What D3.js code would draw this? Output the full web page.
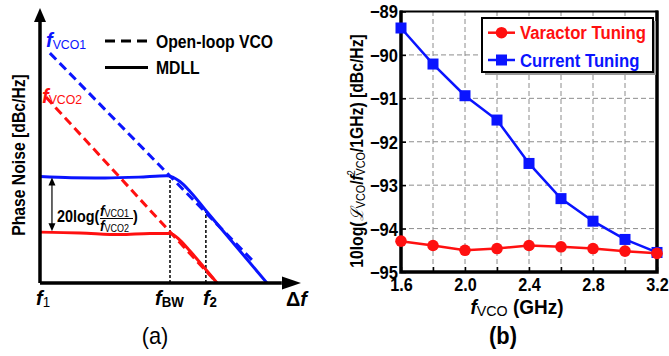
<!DOCTYPE html>
<html>
<head>
<meta charset="utf-8">
<script src="https://cdn.jsdelivr.net/npm/d3@7/dist/d3.min.js"></script>
<style>
  body { margin: 0; background: #fff; }
  svg { display: block; font-family: "Liberation Sans", Arial, sans-serif; }
</style>
</head>
<body>
<svg id="chart" width="669" height="356"></svg>
<script>
// ---- panel (a): schematic phase-noise sketch, unitless coordinates (0..10) ----
const blueOpenLoop = [[0.38, 8.36], [8.15, 0.84]];
const redOpenLoop = [[0.23, 6.76], [6.81, 0]];
const blueMdll = [[0, 3.87], [1.2, 3.83], [2.5, 3.82], [3.8, 3.85], [4.88, 3.9],
  [5.38, 3.69], [5.77, 3.33], [6.41, 2.6], [8.73, 0]];
const redMdll = [[0, 1.85], [1.54, 1.82], [3.08, 1.76], [4.23, 1.8], [5.0, 1.8],
  [5.38, 1.56], [5.77, 1.16], [6.81, 0]];
const fBw = 5.0;
const f2 = 6.38;

// ---- panel (b): measured data ----
const freqs = [1.6, 1.8, 2.0, 2.2, 2.4, 2.6, 2.8, 3.0, 3.2];
const varactorTuning = [-94.29, -94.39, -94.50, -94.46, -94.39, -94.42, -94.46, -94.52, -94.57];
const currentTuning = [-89.38, -90.21, -90.94, -91.50, -92.50, -93.31, -93.83, -94.25, -94.55];
const yTicks = [-95, -94, -93, -92, -91, -90, -89];
const xTickLabels = [1.6, 2.0, 2.4, 2.8, 3.2];

const BLUE = '#0a14ff';
const RED = '#ff1010';

const svg = d3.select('#chart');

// text helper: Arial-like bold, squeezed a little horizontally like the original
function label(g, x, y, opt) {
  let tf = `translate(${x},${y})`;
  if (opt.rotate) tf += ` rotate(${opt.rotate})`;
  tf += ` scale(${opt.sx || 0.9},1)`;
  const t = g.append('text')
    .attr('transform', tf)
    .attr('text-anchor', opt.anchor || 'start')
    .attr('fill', opt.fill || '#000')
    .style('font-size', (opt.size || 17) + 'px')
    .style('font-weight', opt.weight || 'bold');
  const parts = opt.parts || [{ t: opt.text }];
  parts.forEach((p) => {
    const s = t.append('tspan').text(p.t);
    if (p.size) s.style('font-size', p.size + 'px');
    if (p.weight) s.style('font-weight', p.weight);
    if (p.italic) s.style('font-style', 'italic');
    if (p.dx) s.attr('dx', p.dx);
    if (p.dy) s.attr('dy', p.dy);
  });
  return t;
}

// ================= panel (a) =================
const ga = svg.append('g');
const xA = d3.scaleLinear().domain([0, 10]).range([40, 300]);
const yA = d3.scaleLinear().domain([0, 10]).range([283, 8]);
const lineA = d3.line().x((d) => xA(d[0])).y((d) => yA(d[1]));
const smoothA = d3.line().x((d) => xA(d[0])).y((d) => yA(d[1])).curve(d3.curveMonotoneX);

// dotted verticals
ga.append('path').attr('d', lineA([[fBw, 0], [fBw, 3.88]]))
  .attr('stroke', '#000').attr('stroke-width', 1.5).attr('stroke-dasharray', '3,2');
ga.append('path').attr('d', lineA([[f2, 0], [f2, 2.6]]))
  .attr('stroke', '#000').attr('stroke-width', 1.5).attr('stroke-dasharray', '3,2');

// open-loop (dashed)
ga.append('path').attr('d', lineA(blueOpenLoop)).attr('fill', 'none')
  .attr('stroke', BLUE).attr('stroke-width', 3).attr('stroke-dasharray', '9,5');
ga.append('path').attr('d', lineA(redOpenLoop)).attr('fill', 'none')
  .attr('stroke', RED).attr('stroke-width', 3).attr('stroke-dasharray', '9,5');

// MDLL (solid)
ga.append('path').attr('d', smoothA(blueMdll)).attr('fill', 'none')
  .attr('stroke', BLUE).attr('stroke-width', 3);
ga.append('path').attr('d', smoothA(redMdll)).attr('fill', 'none')
  .attr('stroke', RED).attr('stroke-width', 3);

// axes with arrows
ga.append('path').attr('d', lineA([[0, 0], [0, 9.5]]))
  .attr('stroke', '#000').attr('stroke-width', 3.5);
ga.append('path').attr('d', lineA([[0, 0], [9.3, 0]]))
  .attr('stroke', '#000').attr('stroke-width', 3.5);
ga.append('path').attr('fill', '#000')
  .attr('d', `M${xA(0)},${yA(10)} L${xA(0) - 6},${yA(10) + 14} L${xA(0) + 6},${yA(10) + 14}Z`);
ga.append('path').attr('fill', '#000')
  .attr('d', `M${xA(10) + 1},${yA(0)} L${xA(10) - 18},${yA(0) - 6.5} L${xA(10) - 18},${yA(0) + 6.5}Z`);

// double arrow between the two plateaus
const arrX = xA(0.46);
const arrTop = yA(3.87) + 1;
const arrBot = yA(1.85) - 1;
ga.append('line').attr('x1', arrX).attr('x2', arrX).attr('y1', arrTop + 6).attr('y2', arrBot - 6)
  .attr('stroke', '#000').attr('stroke-width', 1.2);
ga.append('path').attr('fill', '#000')
  .attr('d', `M${arrX},${arrTop} L${arrX - 3.5},${arrTop + 8} L${arrX + 3.5},${arrTop + 8}Z`);
ga.append('path').attr('fill', '#000')
  .attr('d', `M${arrX},${arrBot} L${arrX - 3.5},${arrBot - 8} L${arrX + 3.5},${arrBot - 8}Z`);

// 20log(fVCO1/fVCO2)
label(ga, 57, 222, { size: 16, text: '20log(' });
label(ga, 100, 215.5, { size: 15, sx: 0.9, parts: [
  { t: 'f', italic: true },
  { t: 'VCO1', size: 10, weight: 'normal', dy: 1 }] });
label(ga, 100, 231, { size: 15, sx: 0.9, parts: [
  { t: 'f', italic: true },
  { t: 'VCO2', size: 10, weight: 'normal', dy: 1 }] });
ga.append('line').attr('x1', 100).attr('x2', 133).attr('y1', 218.5).attr('y2', 218.5)
  .attr('stroke', '#000').attr('stroke-width', 1);
label(ga, 133, 222, { size: 16, text: ')' });

// curve names
label(ga, 46, 47, { size: 21, fill: BLUE, sx: 0.95, parts: [
  { t: 'f', italic: true },
  { t: 'VCO1', size: 13, weight: 'normal', dy: 2 }] });
label(ga, 42, 103, { size: 21, fill: RED, sx: 0.95, parts: [
  { t: 'f', italic: true },
  { t: 'VCO2', size: 13, weight: 'normal', dy: 1 }] });

// legend (a)
ga.append('line').attr('x1', 105).attr('x2', 148).attr('y1', 41).attr('y2', 41)
  .attr('stroke', '#000').attr('stroke-width', 3).attr('stroke-dasharray', '10,6');
ga.append('line').attr('x1', 105).attr('x2', 148).attr('y1', 67.5).attr('y2', 67.5)
  .attr('stroke', '#000').attr('stroke-width', 3);
label(ga, 156, 47.5, { size: 17.5, sx: 0.9, text: 'Open-loop VCO' });
label(ga, 156, 74, { size: 17.5, sx: 0.9, text: 'MDLL' });

// axis titles (a)
label(ga, 25, 155, { size: 17.5, sx: 0.9, rotate: -90, anchor: 'middle', text: 'Phase Noise [dBc/Hz]' });
label(ga, 36, 305, { size: 21, sx: 0.95, parts: [
  { t: 'f', italic: true }, { t: '1', size: 14, weight: 'normal', dy: 2 }] });
label(ga, xA(fBw) - 15, 305, { size: 21, sx: 0.95, parts: [
  { t: 'f', italic: true }, { t: 'BW', size: 14, dy: 2 }] });
label(ga, xA(f2) - 3, 305, { size: 21, sx: 0.95, parts: [
  { t: 'f', italic: true }, { t: '2', size: 14, dy: 2 }] });
label(ga, 286, 306, { size: 21, sx: 0.95, parts: [
  { t: 'Δ' }, { t: 'f', italic: true }] });
label(ga, 155, 344, { size: 23, sx: 0.95, weight: 'normal', anchor: 'middle', text: '(a)' });

// ================= panel (b) =================
const gb = svg.append('g');
const x = d3.scaleLinear().domain([1.6, 3.2]).range([401, 657]);
const y = d3.scaleLinear().domain([-95, -89]).range([272, 11.5]);

// grid
gb.append('g').selectAll('line').data(freqs.slice(1, -1)).join('line')
  .attr('x1', (d) => x(d)).attr('x2', (d) => x(d))
  .attr('y1', y(-95)).attr('y2', y(-89))
  .attr('stroke', '#8c8c8c').attr('stroke-width', 1).attr('stroke-dasharray', '5,3');
gb.append('g').selectAll('line').data(yTicks.slice(1, -1)).join('line')
  .attr('x1', x(1.6)).attr('x2', x(3.2))
  .attr('y1', (d) => y(d)).attr('y2', (d) => y(d))
  .attr('stroke', '#8c8c8c').attr('stroke-width', 1).attr('stroke-dasharray', '5,3');

// axes
const isLabelled = (d) => xTickLabels.some((v) => Math.abs(v - d) < 1e-9);
const xAxis = gb.append('g').attr('transform', `translate(0,${y(-95)})`)
  .call(d3.axisBottom(x).tickValues(freqs).tickSize(-5)
    .tickFormat((d) => (isLabelled(d) ? d3.format('.1f')(d) : '')));
const yAxis = gb.append('g').attr('transform', `translate(${x(1.6)},0)`)
  .call(d3.axisLeft(y).tickValues(yTicks).tickSize(-5).tickFormat(d3.format('d')));
[xAxis, yAxis].forEach((a) => {
  a.select('.domain').remove();
  a.selectAll('.tick line').attr('stroke', '#000').attr('stroke-width', 1.5);
  a.selectAll('.tick text').attr('fill', '#000')
    .style('font-size', '18px').style('font-weight', 'bold')
    .style('font-family', '"Liberation Sans", Arial, sans-serif');
});
xAxis.selectAll('.tick text').attr('transform', 'scale(0.9,1)')
  .attr('x', 0).attr('y', 6).attr('dy', '0.71em');
yAxis.selectAll('.tick text').attr('transform', 'translate(-3,0) scale(0.92,1)')
  .attr('x', 0).attr('dy', '0.36em');

// frame
gb.append('rect').attr('x', x(1.6)).attr('y', y(-89))
  .attr('width', x(3.2) - x(1.6)).attr('height', y(-95) - y(-89))
  .attr('fill', 'none').attr('stroke', '#000').attr('stroke-width', 2);
gb.append('path')
  .attr('d', `M${x(1.6)},${y(-89) - 1} V${y(-95)} H${x(3.2)} V${y(-89) - 1}`)
  .attr('fill', 'none').attr('stroke', '#000').attr('stroke-width', 3.5);

// series
const line = d3.line().x((d) => x(d[0])).y((d) => y(d[1]));
const cur = freqs.map((f, i) => [f, currentTuning[i]]);
const vr = freqs.map((f, i) => [f, varactorTuning[i]]);
gb.append('path').attr('d', line(cur)).attr('fill', 'none')
  .attr('stroke', BLUE).attr('stroke-width', 2.5);
gb.append('g').selectAll('rect').data(cur).join('rect')
  .attr('x', (d) => x(d[0]) - 5.5).attr('y', (d) => y(d[1]) - 5.5)
  .attr('width', 11).attr('height', 11).attr('fill', BLUE);
gb.append('path').attr('d', line(vr)).attr('fill', 'none')
  .attr('stroke', RED).attr('stroke-width', 2.5);
gb.append('g').selectAll('circle').data(vr).join('circle')
  .attr('cx', (d) => x(d[0])).attr('cy', (d) => y(d[1])).attr('r', 5.8).attr('fill', RED);

// legend (b)
const lg = gb.append('g');
lg.append('rect').attr('x', 485).attr('y', 21).attr('width', 171).attr('height', 54).attr('fill', '#9a9a9a');
lg.append('rect').attr('x', 482).attr('y', 18).attr('width', 171).attr('height', 54)
  .attr('fill', '#fff').attr('stroke', '#000').attr('stroke-width', 2);
const legendItems = [
  { name: 'Varactor Tuning', color: RED, shape: 'circle', yy: 32.7 },
  { name: 'Current Tuning', color: BLUE, shape: 'square', yy: 60 },
];
legendItems.forEach((it) => {
  lg.append('line').attr('x1', 488).attr('x2', 515).attr('y1', it.yy).attr('y2', it.yy)
    .attr('stroke', it.color).attr('stroke-width', 2.5);
  if (it.shape === 'circle') {
    lg.append('circle').attr('cx', 501.5).attr('cy', it.yy).attr('r', 5.8).attr('fill', it.color);
  } else {
    lg.append('rect').attr('x', 496).attr('y', it.yy - 5.5).attr('width', 11).attr('height', 11)
      .attr('fill', it.color);
  }
  label(lg, 520, it.yy + 6.5, { size: 19, sx: 0.88, fill: it.color, text: it.name });
});

// axis titles (b)
label(gb, 517, 314, { size: 20, sx: 0.95, anchor: 'middle', parts: [
  { t: 'f', italic: true },
  { t: 'VCO', size: 15, weight: 'normal', dy: 2 },
  { t: ' (GHz)', dy: -2 }] });
label(gb, 363, 151, { size: 17.5, sx: 0.9, rotate: -90, anchor: 'middle', parts: [
  { t: '10log(' },
  { t: 'ℒ', italic: true, weight: 'normal' },
  { t: 'VCO', size: 12, weight: 'normal', dy: 2 },
  { t: '/', dy: -2 },
  { t: 'f', italic: true },
  { t: '2', size: 10, weight: 'normal', dy: -8 },
  { t: 'VCO', size: 12, weight: 'normal', dx: -6, dy: 10 },
  { t: '/1GHz) [dBc/Hz]', dy: -2 }] });
label(gb, 503, 344, { size: 23, sx: 0.95, anchor: 'middle', text: '(b)' });
</script>
</body>
</html>
